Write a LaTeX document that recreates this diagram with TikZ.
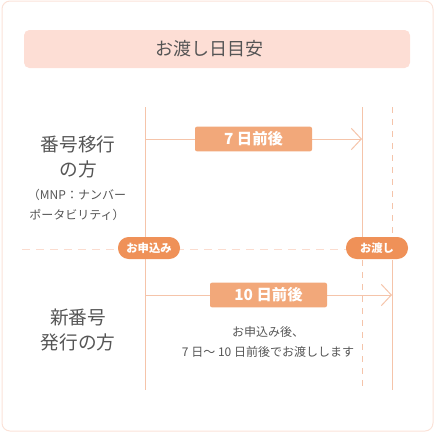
\documentclass[tikz,border=0pt]{standalone}
\usepackage{fontspec}
\setmainfont{Noto Sans CJK JP}
\usepackage{tikz}
\usetikzlibrary{arrows.meta, positioning}
\definecolor{FrameLine} {RGB}{251,226,216}
\definecolor{TitleFill} {RGB}{253,222,213}
\definecolor{TimeLine}  {RGB}{245,196,170}
\definecolor{DashLine}  {RGB}{251,220,207}
\definecolor{PillOrange}{RGB}{239,145,88}
\definecolor{SpanOrange}{RGB}{242,168,122}
\definecolor{TextGrey}  {RGB}{85,85,85}

\begin{document}
\begin{tikzpicture}[
  x=0.75pt, y=-0.75pt,
  frame/.style={draw=FrameLine, line width=0.75pt, rounded corners=6pt},
  titlebox/.style={fill=TitleFill, rounded corners=4pt,
                   minimum width=289.5pt, minimum height=28.5pt},
  lane/.style={draw=TimeLine, line width=0.75pt},
  lanedash/.style={draw=TimeLine, line width=0.75pt, dash pattern=on 4.5pt off 4.5pt},
  sep/.style={draw=DashLine, line width=0.75pt, dash pattern=on 6pt off 4.5pt},
  pill/.style={fill=PillOrange, rounded corners=8pt, text=white,
               minimum width=46.5pt, minimum height=16.5pt, inner sep=0pt,
               font=\bfseries\fontsize{8.5}{10}\selectfont},
  span/.style={fill=SpanOrange, rounded corners=1.5pt, text=white,
               minimum width=87.75pt, minimum height=18.5pt, inner sep=0pt,
               font=\bfseries\fontsize{11.5}{13}\selectfont},
  arr/.style={-{Straight Barb[length=7.5pt, width=16pt, line width=0.75pt]},
              draw=TimeLine, line width=0.75pt},
  who/.style={text=TextGrey, align=center, font=\fontsize{14}{18.75}\selectfont},
  note/.style={text=TextGrey, align=center, font=\fontsize{9}{15}\selectfont}
]
  \useasboundingbox (0,0) rectangle (435,433);
  \draw[frame] (2,1) rectangle (433,431);

  % heading
  \node[titlebox] (head) at (217,49) {};
  \node[text=TextGrey, font=\fontsize{13.5}{16}\selectfont] (headtxt) at (209,49) {お渡し日目安};

  % time lines
  \coordinate (applyTop) at (145,107);
  \coordinate (applyBot) at (145,390);
  \coordinate (mnpTop) at (362,107);
  \coordinate (mnpEnd) at (362,238);
  \coordinate (mnpDash) at (362,260);
  \coordinate (mnpBot) at (362,390);
  \coordinate (newTop) at (392,107);
  \coordinate (newDash) at (392,238);
  \coordinate (newStart) at (392,260);
  \coordinate (newBot) at (392,390);
  \coordinate (sepL) at (22,249);
  \coordinate (sepR) at (412,249);

  \draw[sep] (sepL) -- (sepR);
  \draw[lane] (applyTop) -- (applyBot);
  \draw[lane] (mnpTop) -- (mnpEnd);
  \draw[lanedash] (mnpDash) -- (mnpBot);
  \draw[lanedash] (newTop) -- (newDash);
  \draw[lane] (newStart) -- (newBot);

  \node[pill] (apply) at (149,248) {お申込み};
  \node[pill] (hand) at (377,248) {お渡し};

  % spans
  \coordinate (mnpFrom) at (145,139);
  \coordinate (mnpTo) at (362,139);
  \coordinate (newFrom) at (145,295);
  \coordinate (newTo) at (392,295);
  \draw[arr] (mnpFrom) -- node[span] (mnpDays) {7 日前後} (mnpTo);
  \draw[arr] (newFrom) -- node[span] (newDays) {10 日前後} (newTo);

  % row labels
  \node[who] (mnpWho) at (78,157) {番号移行\\の方};
  \node[note] (mnpSub) at (77,205) {（MNP：ナンバー\\ポータビリティ）};
  \node[who] (newWho) at (78,330) {新番号\\発行の方};
  \node[note] (newNote) at (268,342) {お申込み後、\\7 日〜 10 日前後でお渡しします};
\end{tikzpicture}
\end{document}
